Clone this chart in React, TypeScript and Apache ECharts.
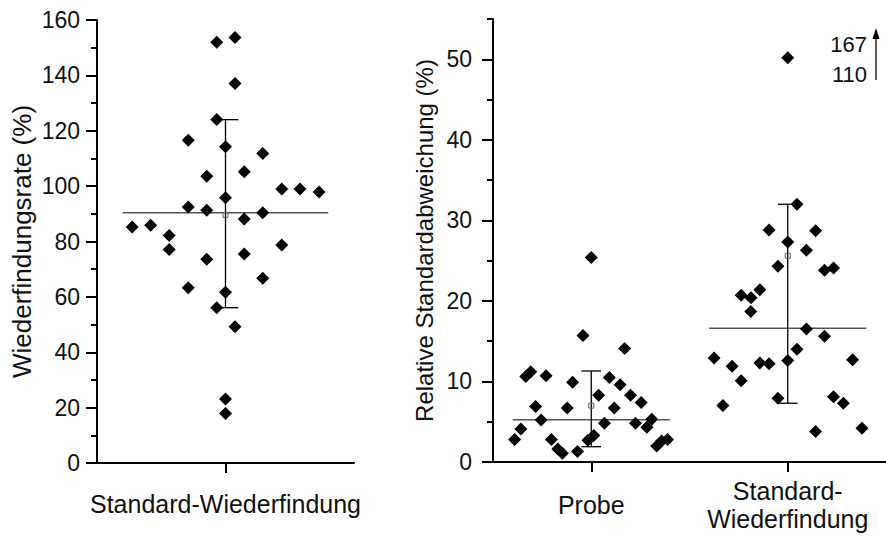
import React, { useEffect, useRef } from "react";
import * as echarts from "echarts";

const leftCategory = "Standard-Wiederfindung";
const rightCategories = ["Probe", "Standard-\nWiederfindung"];
const leftTitle = "Wiederfindungsrate (%)";
const rightTitle = "Relative Standardabweichung (%)";

const leftValues = [152, 153.7, 137.1, 124.1, 116.6, 114.2, 111.8, 103.6, 105.2, 95.8, 99.0, 99.0, 97.9, 92.5, 91.3, 90.4, 88.1, 85.2, 85.9, 82.2, 77.1, 73.6, 75.5, 78.7, 63.3, 66.7, 61.7, 56.1, 49.2, 23.1, 17.9];
const leftJitter = [-0.034, 0.037, 0.037, -0.034, -0.145, 0, 0.145, -0.073, 0.073, 0, 0.219, 0.29, 0.364, -0.145, -0.073, 0.145, 0.073, -0.363, -0.291, -0.219, -0.219, -0.073, 0.073, 0.219, -0.145, 0.145, 0, -0.034, 0.037, 0, 0];
// [median, mean, lower, upper]
const leftStats = [90.4, 89.6, 56.1, 124.0];

const probeValues = [25.4, 15.7, 14.1, 11.2, 10.6, 10.7, 9.9, 10.5, 9.6, 8.3, 8.3, 7.4, 6.9, 6.7, 6.7, 5.2, 4.8, 4.8, 5.3, 4.3, 4.1, 2.8, 2.8, 1.6, 1.1, 1.3, 2.7, 3.3, 2.0, 2.6, 2.8];
const probeJitter = [0, -0.042, 0.17, -0.308, -0.333, -0.23, -0.095, 0.092, 0.147, 0.038, 0.2, 0.254, -0.283, -0.122, 0.117, -0.255, 0.067, 0.225, 0.308, 0.283, -0.358, -0.39, -0.203, -0.17, -0.147, -0.07, -0.017, 0.013, 0.333, 0.358, 0.388];
const probeStats = [5.25, 7.0, 1.9, 11.3];

const standardValues = [50.2, 32.0, 28.8, 28.7, 27.3, 26.3, 24.3, 23.8, 24.1, 21.4, 20.7, 20.4, 18.7, 16.5, 15.6, 14.0, 12.9, 12.3, 12.2, 12.6, 12.7, 11.9, 10.1, 7.9, 8.1, 7.3, 7.0, 3.8, 4.2];
const standardJitter = [0, 0.047, -0.095, 0.142, 0, 0.095, -0.05, 0.187, 0.233, -0.142, -0.237, -0.187, -0.188, 0.095, 0.187, 0.047, -0.375, -0.142, -0.095, 0, 0.33, -0.283, -0.237, -0.05, 0.233, 0.283, -0.33, 0.142, 0.378];
const standardStats = [16.6, 25.6, 7.3, 32.0];

const offScaleLabels = ["167", "110"];

const leftTicks = [0, 20, 40, 60, 80, 100, 120, 140, 160];
const rightMajorTicks = [0, 10, 20, 30, 40, 50];

const FONT = "'Liberation Sans', Arial, sans-serif";
const TXT = "#111";

function statsRender(params: any, api: any) {
  const c = api.value(0);
  const med = api.value(1);
  const mean = api.value(2);
  const lo = api.value(3);
  const hi = api.value(4);
  const ml = api.coord([c - 0.4, med]);
  const mr = api.coord([c + 0.4, med]);
  const top = api.coord([c, hi]);
  const bot = api.coord([c, lo]);
  const capL = api.coord([c - 0.05, hi]);
  const capR = api.coord([c + 0.05, hi]);
  const capL2 = api.coord([c - 0.05, lo]);
  const capR2 = api.coord([c + 0.05, lo]);
  const m = api.coord([c, mean]);
  const blk = { stroke: "#000", lineWidth: 1.3 };
  return {
    type: "group",
    children: [
      { type: "line", shape: { x1: ml[0], y1: ml[1], x2: mr[0], y2: mr[1] }, style: { stroke: "#555", lineWidth: 1.5 } },
      { type: "line", shape: { x1: top[0], y1: top[1], x2: bot[0], y2: bot[1] }, style: blk },
      { type: "line", shape: { x1: capL[0], y1: capL[1], x2: capR[0], y2: capR[1] }, style: blk },
      { type: "line", shape: { x1: capL2[0], y1: capL2[1], x2: capR2[0], y2: capR2[1] }, style: blk },
      { type: "rect", shape: { x: m[0] - 2.5, y: m[1] - 2.5, width: 5, height: 5 }, style: { fill: "none", stroke: "#666", lineWidth: 1 } },
    ],
  };
}

export default function App() {
  const ref = useRef<HTMLDivElement>(null);
  useEffect(() => {
    document.body.style.margin = "0";
    const chart = echarts.init(ref.current!, undefined, { renderer: "svg" });
    const axisLine = { show: true, onZero: false, lineStyle: { color: "#000", width: 2 } };
    const labelStyle = { color: TXT, fontSize: 23, fontFamily: FONT };
    const option: any = {
      animation: false,
      textStyle: { fontFamily: FONT },
      grid: [
        { left: 97, right: 532, top: 20, bottom: 75 },
        { left: 493, right: -7, top: 19, bottom: 76 },
      ],
      xAxis: [
        {
          type: "value", gridIndex: 0, min: -0.5, max: 0.5,
          splitLine: { show: false },
          axisLine,
          axisTick: { show: true, customValues: [0], length: 10, lineStyle: { color: "#000", width: 2 } },
          axisLabel: { customValues: [0], formatter: () => leftCategory, color: TXT, fontSize: 25, fontFamily: FONT, margin: 41, verticalAlign: "middle" },
        },
        {
          type: "value", gridIndex: 1, min: -0.5, max: 1.5,
          splitLine: { show: false },
          axisLine,
          axisTick: { show: true, customValues: [0, 1], length: 10, lineStyle: { color: "#000", width: 2 } },
          axisLabel: {
            customValues: [0, 1],
            formatter: (v: number) => rightCategories[Math.round(v)],
            color: TXT, fontSize: 25, lineHeight: 28, fontFamily: FONT, margin: 43, verticalAlign: "middle",
          },
        },
      ],
      yAxis: [
        {
          type: "value", gridIndex: 0, min: 0, max: 160, interval: 20,
          splitLine: { show: false },
          axisLine,
          axisTick: { show: true, length: 11, lineStyle: { color: "#000", width: 2 } },
          minorTick: { show: true, splitNumber: 2, length: 6, lineStyle: { color: "#000", width: 2 } },
          axisLabel: { ...labelStyle, margin: 17, customValues: leftTicks },
          name: leftTitle, nameLocation: "middle", nameGap: 62,
          nameTextStyle: { color: TXT, fontSize: 26, fontFamily: FONT },
        },
        {
          type: "value", gridIndex: 1, min: 0, max: 55, interval: 5,
          splitLine: { show: false },
          axisLine,
          axisTick: { show: true, length: 6, lineStyle: { color: "#000", width: 2 } },
          axisLabel: { ...labelStyle, margin: 21, customValues: rightMajorTicks },
          name: rightTitle, nameLocation: "middle", nameGap: 57,
          nameTextStyle: { color: TXT, fontSize: 24, fontFamily: FONT },
        },
        {
          type: "value", gridIndex: 1, min: 0, max: 55, position: "left",
          splitLine: { show: false },
          axisLine: { show: false, onZero: false },
          axisTick: { show: true, customValues: rightMajorTicks, length: 11, lineStyle: { color: "#000", width: 2 } },
          axisLabel: { show: false },
        },
      ],
      series: [
        {
          type: "custom", xAxisIndex: 0, yAxisIndex: 0, renderItem: statsRender, z: 1,
          encode: { x: 0, y: 1 },
          data: [[0, ...leftStats]],
        },
        {
          type: "custom", xAxisIndex: 1, yAxisIndex: 1, renderItem: statsRender, z: 1,
          encode: { x: 0, y: 1 },
          data: [[0, ...probeStats], [1, ...standardStats]],
        },
        {
          type: "scatter", xAxisIndex: 0, yAxisIndex: 0, symbol: "diamond", symbolSize: 13, z: 3,
          itemStyle: { color: "#000", opacity: 1 },
          data: leftValues.map((v, i) => [leftJitter[i], v]),
        },
        {
          type: "scatter", xAxisIndex: 1, yAxisIndex: 1, symbol: "diamond", symbolSize: 13, z: 3,
          itemStyle: { color: "#000", opacity: 1 },
          data: probeValues.map((v, i) => [probeJitter[i], v]),
        },
        {
          type: "scatter", xAxisIndex: 1, yAxisIndex: 1, symbol: "diamond", symbolSize: 13, z: 3,
          itemStyle: { color: "#000", opacity: 1 },
          data: standardValues.map((v, i) => [1 + standardJitter[i], v]),
        },
      ],
      graphic: [
        { type: "text", x: 867, y: 44, style: { text: offScaleLabels[0], fill: TXT, font: `22px ${FONT}`, textAlign: "right", textVerticalAlign: "middle" } },
        { type: "text", x: 867, y: 74, style: { text: offScaleLabels[1], fill: TXT, font: `22px ${FONT}`, textAlign: "right", textVerticalAlign: "middle" } },
        { type: "line", shape: { x1: 876, y1: 80, x2: 876, y2: 36 }, style: { stroke: "#000", lineWidth: 1.3 } },
        { type: "polygon", shape: { points: [[872.5, 39], [879.5, 39], [876, 28]] }, style: { fill: "#000" } },
      ],
    };
    chart.setOption(option);
    return () => chart.dispose();
  }, []);
  return <div ref={ref} style={{ width: 886, height: 538 }} />;
}
